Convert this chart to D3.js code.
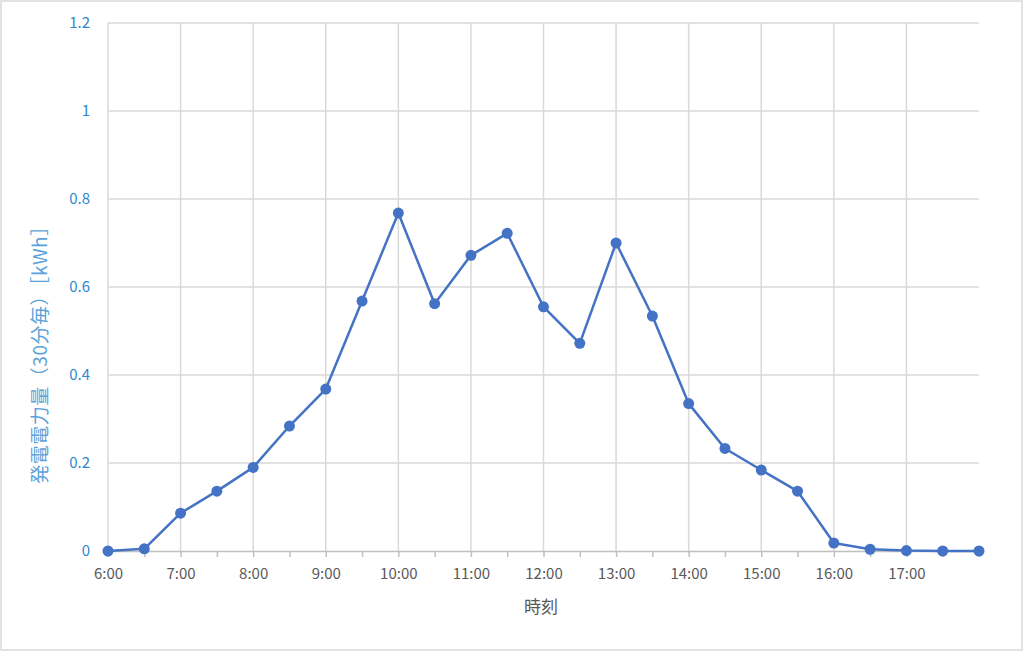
<!DOCTYPE html>
<html>
<head>
<meta charset="utf-8">
<script src="https://cdn.jsdelivr.net/npm/d3@7"></script>
<style>
  body { margin: 0; background: #fff; }
  svg { display: block; }
</style>
</head>
<body>
<div id="chart"></div>
<script>
// 30-minute generation data
var times = ["6:00", "6:30", "7:00", "7:30", "8:00", "8:30", "9:00", "9:30", "10:00", "10:30",
             "11:00", "11:30", "12:00", "12:30", "13:00", "13:30", "14:00", "14:30", "15:00", "15:30",
             "16:00", "16:30", "17:00", "17:30", "18:00"];
var kwh = [0, 0.005, 0.086, 0.136, 0.19, 0.284, 0.368, 0.568, 0.768, 0.562,
           0.672, 0.722, 0.555, 0.472, 0.7, 0.534, 0.335, 0.233, 0.184, 0.136,
           0.018, 0.004, 0.001, 0, 0];
var hourLabels = ["6:00", "7:00", "8:00", "9:00", "10:00", "11:00", "12:00", "13:00", "14:00", "15:00", "16:00", "17:00"];
var yTicks = [0, 0.2, 0.4, 0.6, 0.8, 1, 1.2];

var width = 1024, height = 652;
var margin = {top: 23, right: 45, bottom: 101, left: 108};

function toHour(t) {
    var p = t.split(":");
    return +p[0] + (+p[1]) / 60;
}

var data = times.map(function(t, i) { return {h: toHour(t), v: kwh[i]}; });

var svg = d3.select("#chart").append("svg")
    .attr("width", width)
    .attr("height", height);

// outer chart border
svg.append("rect")
    .attr("x", 1).attr("y", 1)
    .attr("width", width - 3).attr("height", height - 3)
    .style("fill", "#fff")
    .style("stroke", "#d9d9d9")
    .style("stroke-width", 1.5);

var g = svg.append("g")
    .attr("transform", "translate(" + margin.left + "," + margin.top + ")");

var w = width - margin.left - margin.right;
var h = height - margin.top - margin.bottom;

var x = d3.scaleLinear().domain([6, 18]).range([0, w]);
var y = d3.scaleLinear().domain([0, 1.2]).range([h, 0]);

var font = "'Noto Sans CJK JP', 'Noto Sans', sans-serif";

// horizontal gridlines
g.selectAll(".hgrid")
    .data(yTicks.filter(function(d) { return d > 0; }))
    .enter().append("line")
    .attr("class", "hgrid")
    .attr("x1", 0).attr("x2", w)
    .attr("y1", function(d) { return y(d); })
    .attr("y2", function(d) { return y(d); })
    .style("stroke", "#d9d9d9")
    .style("stroke-width", 1.5);

// vertical gridlines on each hour
g.selectAll(".vgrid")
    .data(hourLabels)
    .enter().append("line")
    .attr("class", "vgrid")
    .attr("x1", function(d) { return x(toHour(d)); })
    .attr("x2", function(d) { return x(toHour(d)); })
    .attr("y1", 0).attr("y2", h)
    .style("stroke", "#d9d9d9")
    .style("stroke-width", 1.5);

// x axis with half-hour ticks
var xAxis = d3.axisBottom(x)
    .tickValues(times.map(toHour))
    .tickSize(6)
    .tickFormat(function(d) {
        var lbl = hourLabels.find(function(t) { return toHour(t) === d; });
        return lbl || "";
    });

var xg = g.append("g")
    .attr("transform", "translate(0," + h + ")")
    .call(xAxis);
xg.select(".domain").style("stroke", "#bfbfbf").style("stroke-width", 1.5);
xg.selectAll(".tick line").style("stroke", "#bfbfbf").style("stroke-width", 1.5);
xg.selectAll(".tick").filter(function(d) { return d === 18; }).select("line").remove();
xg.selectAll(".tick text")
    .attr("y", 17)
    .style("font-family", font)
    .style("font-size", "15px")
    .style("fill", "#595959");

// y axis labels only
var yg = g.append("g")
    .call(d3.axisLeft(y).tickValues(yTicks).tickSize(0).tickPadding(18)
        .tickFormat(function(d) { return d3.format("")(d); }));
yg.select(".domain").remove();
yg.selectAll(".tick text")
    .style("font-family", font)
    .style("font-size", "15px")
    .style("fill", "#2e86cf");

// line
var line = d3.line()
    .x(function(d) { return x(d.h); })
    .y(function(d) { return y(d.v); });

g.append("path")
    .datum(data)
    .attr("d", line)
    .style("fill", "none")
    .style("stroke", "#4472c4")
    .style("stroke-width", 2.5)
    .style("stroke-linejoin", "round");

g.selectAll(".dot")
    .data(data)
    .enter().append("circle")
    .attr("class", "dot")
    .attr("cx", function(d) { return x(d.h); })
    .attr("cy", function(d) { return y(d.v); })
    .attr("r", 5.5)
    .style("fill", "#4472c4");

// axis titles
svg.append("text")
    .attr("x", 541)
    .attr("y", 613)
    .attr("text-anchor", "middle")
    .style("font-family", font)
    .style("font-size", "17px")
    .style("fill", "#595959")
    .text("時刻");

svg.append("text")
    .attr("transform", "translate(40,350) rotate(-90)")
    .attr("text-anchor", "middle")
    .attr("dy", "0.35em")
    .style("font-family", font)
    .style("font-size", "19px")
    .style("letter-spacing", "0.5px")
    .style("fill", "#5aa2d9")
    .text("発電電力量（30分毎）［kWh］");
</script>
</body>
</html>
